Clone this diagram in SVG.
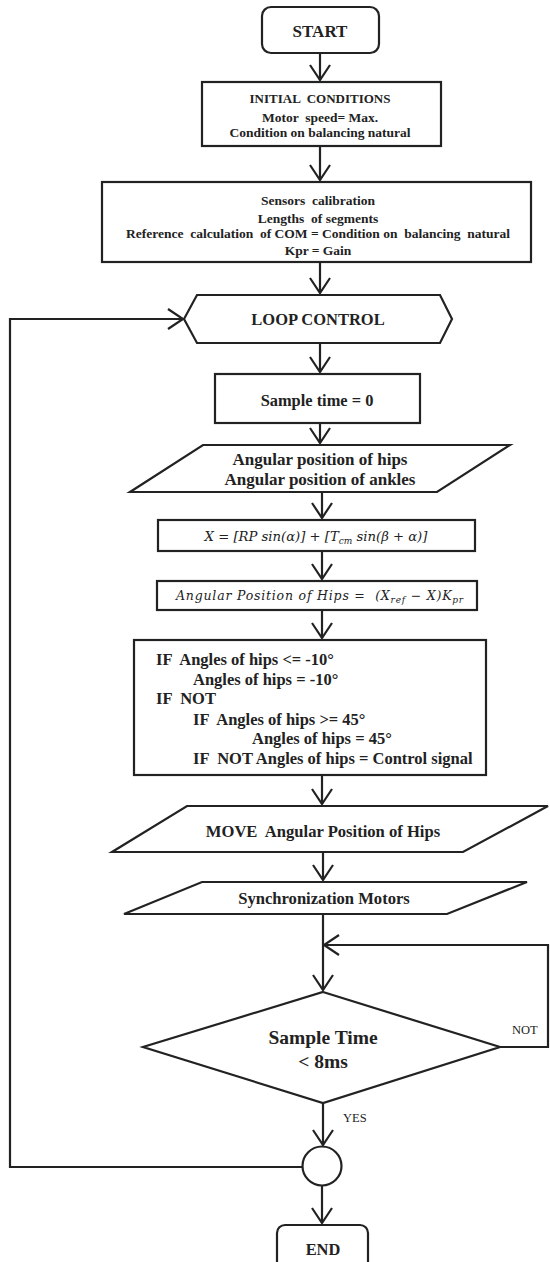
<svg xmlns="http://www.w3.org/2000/svg" width="550" height="1262" viewBox="0 0 550 1262">
<style>
.shape{fill:#fff;stroke:#222;stroke-width:2.2;stroke-linejoin:miter}
.ln{fill:none;stroke:#222;stroke-width:2.2}
.t{font-family:"Liberation Serif","Times New Roman",serif;fill:#222;text-anchor:middle;font-weight:bold}
.tl{font-family:"Liberation Serif","Times New Roman",serif;fill:#222;font-weight:bold}
.lab{font-family:"Liberation Serif","Times New Roman",serif;fill:#222;font-size:12.5px}
.m{font-family:"DejaVu Serif","Liberation Serif",serif;fill:#222;text-anchor:middle;font-style:italic}
</style>
<defs>
<marker id="arr" markerUnits="userSpaceOnUse" markerWidth="20" markerHeight="24" viewBox="-17 -12 20 24" refX="0" refY="0" orient="auto" overflow="visible">
<path d="M-15,-10 L0,0 L-15,10" fill="none" stroke="#222" stroke-width="2.2"/>
</marker>
</defs>
<rect width="550" height="1262" fill="#fff"/>

<g id="start">
<rect class="shape" x="262" y="7" width="117" height="46" rx="9"/>
<text class="t" x="320" y="37" font-size="17" font-weight="normal">START</text>
</g>

<g id="initial">
<rect class="shape" x="202" y="82" width="239" height="64"/>
<text class="t" x="320" y="103" font-size="13" font-weight="normal" xml:space="preserve">INITIAL  CONDITIONS</text>
<text class="t" x="320" y="122" font-size="13.5" xml:space="preserve">Motor  speed= Max.</text>
<text class="t" x="320" y="137" font-size="13.5">Condition on balancing natural</text>
</g>

<g id="sensors">
<rect class="shape" x="102" y="182" width="429" height="80"/>
<text class="t" x="318" y="205" font-size="13.5" xml:space="preserve">Sensors  calibration</text>
<text class="t" x="318" y="223" font-size="13.5" xml:space="preserve">Lengths  of segments</text>
<text class="t" x="318" y="238" font-size="13.5" xml:space="preserve">Reference  calculation  of COM = Condition on  balancing  natural</text>
<text class="t" x="318" y="255" font-size="13.5">Kpr = Gain</text>
</g>

<g id="loop">
<polygon class="shape" points="184,319 197,295 440,295 452,319 440,343 197,343"/>
<text class="t" x="318" y="325" font-size="16.5" font-weight="normal">LOOP CONTROL</text>
</g>

<g id="sample0">
<rect class="shape" x="215" y="374" width="205" height="49"/>
<text class="t" x="317" y="406" font-size="16.4">Sample time = 0</text>
</g>

<g id="angular-input">
<polygon class="shape" points="203,445 510,445 437,492 130,492"/>
<text class="t" x="320" y="465" font-size="17">Angular position of hips</text>
<text class="t" x="320" y="485" font-size="17">Angular position of ankles</text>
</g>

<g id="formula-x">
<rect class="shape" x="158" y="520" width="317" height="31"/>
<text class="m" x="316" y="541" font-size="13.2">X = [RP sin(α)] + [T<tspan font-size="9" dy="3">cm</tspan><tspan dy="-3"> sin(β + α)]</tspan></text>
</g>

<g id="formula-hips">
<rect class="shape" x="157" y="581" width="320" height="29"/>
<text class="m" x="320" y="600" font-size="12.5" letter-spacing="0.8" xml:space="preserve">Angular Position of Hips =  (X<tspan font-size="9" dy="3">ref</tspan><tspan dy="-3"> − X)K</tspan><tspan font-size="9" dy="3">pr</tspan></text>
</g>

<g id="if-block">
<rect class="shape" x="134" y="640" width="352" height="135"/>
<text class="tl" x="156" y="665" font-size="16.5" xml:space="preserve">IF  Angles of hips &lt;= -10°</text>
<text class="tl" x="193" y="685" font-size="16.5">Angles of hips = -10°</text>
<text class="tl" x="156" y="704" font-size="16.5" xml:space="preserve">IF  NOT</text>
<text class="tl" x="193" y="725" font-size="16.5" xml:space="preserve">IF  Angles of hips &gt;= 45°</text>
<text class="tl" x="252" y="744" font-size="16.5">Angles of hips = 45°</text>
<text class="tl" x="193" y="764" font-size="16.5" xml:space="preserve">IF  NOT Angles of hips = Control signal</text>
</g>

<g id="move">
<polygon class="shape" points="187,806 548,806 463,852 112,852"/>
<text class="t" x="323" y="837" font-size="16.6" xml:space="preserve">MOVE  Angular Position of Hips</text>
</g>

<g id="sync">
<polygon class="shape" points="202,882 527,882 447,914 124,914"/>
<text class="t" x="324" y="904" font-size="16.6">Synchronization Motors</text>
</g>

<g id="decision">
<polygon class="shape" points="323,992 500,1047 323,1103 143,1047"/>
<text class="t" x="323" y="1044" font-size="19.5">Sample Time</text>
<text class="t" x="323" y="1068" font-size="19.5">&lt; 8ms</text>
</g>

<g id="junction">
<circle class="shape" cx="322" cy="1166" r="19.5"/>
</g>

<g id="end">
<rect class="shape" x="277" y="1225" width="91" height="45" rx="8"/>
<text class="t" x="323" y="1255" font-size="16.4">END</text>
</g>

<g id="connectors">
<line class="ln" x1="320" y1="53" x2="320" y2="80" marker-end="url(#arr)"/>
<line class="ln" x1="320" y1="146" x2="320" y2="180" marker-end="url(#arr)"/>
<line class="ln" x1="320" y1="262" x2="320" y2="293" marker-end="url(#arr)"/>
<line class="ln" x1="320" y1="343" x2="320" y2="372" marker-end="url(#arr)"/>
<line class="ln" x1="320" y1="423" x2="320" y2="443" marker-end="url(#arr)"/>
<line class="ln" x1="322" y1="492" x2="322" y2="518" marker-end="url(#arr)"/>
<line class="ln" x1="322" y1="551" x2="322" y2="579" marker-end="url(#arr)"/>
<line class="ln" x1="322" y1="610" x2="322" y2="638" marker-end="url(#arr)"/>
<line class="ln" x1="322" y1="775" x2="322" y2="804" marker-end="url(#arr)"/>
<line class="ln" x1="323" y1="852" x2="323" y2="880" marker-end="url(#arr)"/>
<line class="ln" x1="323" y1="914" x2="323" y2="990" marker-end="url(#arr)"/>
<polyline class="ln" points="500,1047 548,1047 548,945 324,945" marker-end="url(#arr)"/>
<line class="ln" x1="323" y1="1103" x2="323" y2="1145" marker-end="url(#arr)"/>
<line class="ln" x1="322" y1="1186" x2="322" y2="1223" marker-end="url(#arr)"/>
<polyline class="ln" points="302,1167 10,1167 10,319 183,319" marker-end="url(#arr)"/>
<text class="lab" x="512" y="1034">NOT</text>
<text class="lab" x="343" y="1122">YES</text>
</g>
</svg>
